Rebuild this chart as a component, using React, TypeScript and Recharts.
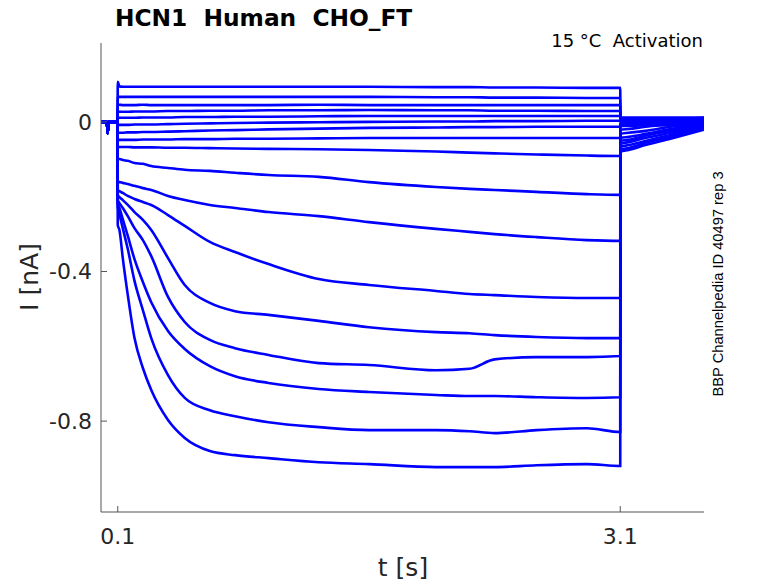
import { LineChart, Line, XAxis, YAxis } from 'recharts';

// time grid [s]: holding, activation step, tail
const preT = [0, 0.035, 0.04, 0.045, 0.099];
const stepT = [0.1, 0.11, 0.13, 0.16, 0.2, 0.25, 0.3, 0.4, 0.5, 0.65, 0.8, 1.0, 1.3, 1.6, 2.0, 2.2, 2.35, 2.6, 2.9, 3.1];
const tailT = [3.101, 3.15, 3.25, 3.4, 3.6];

// holding current (same for every sweep) [nA]
const preI = [0, 0, -0.03, 0, 0];

// current per sweep [nA]: 20 step values then 5 tail values
const sweep1 = [0.107, 0.095, 0.094, 0.094, 0.094, 0.094, 0.094, 0.094, 0.094, 0.094, 0.094, 0.094, 0.094, 0.094, 0.093, 0.093, 0.092, 0.092, 0.091, 0.091, 0.011, 0.011, 0.011, 0.011, 0.011];
const sweep2 = [0.067, 0.067, 0.067, 0.067, 0.067, 0.067, 0.067, 0.067, 0.067, 0.067, 0.067, 0.067, 0.067, 0.067, 0.066, 0.066, 0.065, 0.065, 0.064, 0.064, 0.011, 0.011, 0.011, 0.011, 0.011];
const sweep3 = [0.045, 0.046, 0.045, 0.045, 0.045, 0.046, 0.045, 0.045, 0.045, 0.045, 0.045, 0.045, 0.046, 0.045, 0.045, 0.045, 0.045, 0.045, 0.045, 0.045, 0.008, 0.008, 0.008, 0.008, 0.011];
const sweep4 = [0.027, 0.027, 0.027, 0.027, 0.028, 0.028, 0.028, 0.029, 0.029, 0.03, 0.03, 0.031, 0.031, 0.032, 0.031, 0.031, 0.03, 0.03, 0.029, 0.029, 0.005, 0.005, 0.008, 0.008, 0.008];
const sweep5 = [0.011, 0.011, 0.011, 0.011, 0.011, 0.012, 0.012, 0.012, 0.013, 0.013, 0.014, 0.014, 0.015, 0.016, 0.016, 0.016, 0.016, 0.016, 0.016, 0.016, 0.003, 0.003, 0.005, 0.005, 0.008];
const sweep6 = [-0.008, -0.008, -0.008, -0.008, -0.007, -0.007, -0.007, -0.006, -0.005, -0.004, -0.003, -0.002, -0.001, 0.0, 0.001, 0.001, 0.002, 0.002, 0.003, 0.003, 0.0, 0.0, 0.003, 0.003, 0.005];
const sweep7 = [-0.029, -0.029, -0.029, -0.028, -0.028, -0.027, -0.027, -0.026, -0.025, -0.023, -0.022, -0.02, -0.018, -0.016, -0.015, -0.014, -0.014, -0.013, -0.013, -0.013, -0.003, -0.003, 0.0, 0.003, 0.005];
const sweep8 = [-0.048, -0.048, -0.048, -0.048, -0.048, -0.047, -0.047, -0.047, -0.046, -0.046, -0.045, -0.045, -0.044, -0.043, -0.043, -0.043, -0.043, -0.043, -0.043, -0.043, -0.005, -0.005, -0.003, 0.0, 0.003];
const sweep9 = [-0.067, -0.067, -0.067, -0.067, -0.068, -0.068, -0.068, -0.069, -0.069, -0.07, -0.071, -0.072, -0.073, -0.075, -0.079, -0.082, -0.084, -0.087, -0.09, -0.091, -0.011, -0.011, -0.008, -0.003, 0.003];
const sweep10 = [-0.099, -0.099, -0.102, -0.104, -0.11, -0.112, -0.118, -0.123, -0.128, -0.131, -0.136, -0.142, -0.147, -0.161, -0.174, -0.179, -0.182, -0.187, -0.193, -0.195, -0.021, -0.019, -0.013, -0.008, 0.0];
const sweep11 = [-0.161, -0.161, -0.163, -0.166, -0.171, -0.177, -0.182, -0.198, -0.209, -0.222, -0.23, -0.241, -0.252, -0.268, -0.286, -0.294, -0.3, -0.308, -0.316, -0.318, -0.032, -0.029, -0.024, -0.013, -0.003];
const sweep12 = [-0.182, -0.185, -0.19, -0.198, -0.206, -0.214, -0.222, -0.249, -0.278, -0.321, -0.348, -0.38, -0.42, -0.436, -0.452, -0.46, -0.463, -0.468, -0.471, -0.471, -0.043, -0.04, -0.032, -0.019, -0.005];
const sweep13 = [-0.195, -0.201, -0.209, -0.222, -0.241, -0.262, -0.289, -0.364, -0.436, -0.484, -0.506, -0.516, -0.532, -0.549, -0.562, -0.565, -0.57, -0.575, -0.578, -0.578, -0.051, -0.048, -0.037, -0.024, -0.008];
const sweep14 = [-0.209, -0.217, -0.23, -0.252, -0.284, -0.316, -0.359, -0.468, -0.535, -0.583, -0.605, -0.623, -0.645, -0.65, -0.664, -0.66, -0.635, -0.629, -0.629, -0.626, -0.059, -0.054, -0.043, -0.029, -0.011];
const sweep15 = [-0.217, -0.23, -0.26, -0.305, -0.367, -0.428, -0.482, -0.559, -0.607, -0.653, -0.68, -0.698, -0.714, -0.722, -0.73, -0.733, -0.733, -0.736, -0.738, -0.736, -0.067, -0.062, -0.051, -0.035, -0.013];
const sweep16 = [-0.227, -0.246, -0.284, -0.34, -0.425, -0.503, -0.578, -0.677, -0.738, -0.771, -0.787, -0.803, -0.816, -0.824, -0.824, -0.827, -0.832, -0.824, -0.819, -0.829, -0.075, -0.07, -0.056, -0.04, -0.016];
const sweep17 = [-0.276, -0.289, -0.364, -0.463, -0.578, -0.658, -0.717, -0.797, -0.845, -0.88, -0.891, -0.899, -0.91, -0.915, -0.923, -0.923, -0.923, -0.918, -0.915, -0.92, -0.08, -0.075, -0.062, -0.045, -0.021];

const sweeps = [sweep1, sweep2, sweep3, sweep4, sweep5, sweep6, sweep7, sweep8, sweep9, sweep10, sweep11, sweep12, sweep13, sweep14, sweep15, sweep16, sweep17];

const xTicks = [0.1, 3.1];
const yTicks = [-0.8, -0.4, 0];

const times = [...preT, ...stepT, ...tailT];
const chartData = times.map((t, i) => {
  const row: Record<string, number> = { t };
  sweeps.forEach((s, k) => {
    row['s' + (k + 1)] = i < preT.length ? preI[i] : s[i - preT.length];
  });
  return row;
});

const FONT = '"DejaVu Sans", sans-serif';
const INK = '#262626';

export default function App() {
  return (
    <div style={{ position: 'absolute', left: 0, top: 0, width: 778, height: 583, background: '#fff' }}>
      <LineChart
        width={778}
        height={583}
        data={chartData}
        margin={{ top: 43, right: 74, bottom: 11, left: 21 }}
      >
        <XAxis
          dataKey="t"
          type="number"
          domain={[0, 3.6]}
          ticks={xTicks}
          allowDataOverflow
          height={60}
          stroke="#555"
          tickSize={-6}
          tickMargin={22}
          tick={{ fill: INK, fontSize: 22, fontFamily: FONT }}
        />
        <YAxis
          type="number"
          domain={[-1.043, 0.211]}
          ticks={yTicks}
          allowDataOverflow
          width={80}
          stroke="#555"
          tickSize={-6}
          tickMargin={15}
          tick={{ fill: INK, fontSize: 22, fontFamily: FONT }}
        />
        {sweeps.map((_, k) => (
          <Line
            key={k}
            type="monotone"
            dataKey={'s' + (k + 1)}
            stroke="#0000ff"
            strokeWidth={2.6}
            dot={false}
            isAnimationActive={false}
          />
        ))}
      </LineChart>
      <svg width={778} height={583} style={{ position: 'absolute', left: 0, top: 0, pointerEvents: 'none' }}>
        <text x={115} y={26} fontFamily={FONT} fontWeight="bold" fontSize={23.3} fill="#000" style={{ whiteSpace: 'pre' }}>
          HCN1  Human  CHO_FT
        </text>
        <text x={703} y={47} textAnchor="end" fontFamily={FONT} fontSize={18} fill="#000" style={{ whiteSpace: 'pre' }}>
          15 °C  Activation
        </text>
        <text x={403} y={576} textAnchor="middle" fontFamily={FONT} fontSize={25} fill={INK}>
          t [s]
        </text>
        <text transform="translate(38,277) rotate(-90)" textAnchor="middle" fontFamily={FONT} fontSize={25} fill={INK}>
          I [nA]
        </text>
        <text transform="translate(723,284) rotate(-90)" textAnchor="middle" fontFamily='"Liberation Sans", Arial, sans-serif' fontSize={14.7} fill="#000">
          BBP Channelpedia ID 40497 rep 3
        </text>
      </svg>
    </div>
  );
}
